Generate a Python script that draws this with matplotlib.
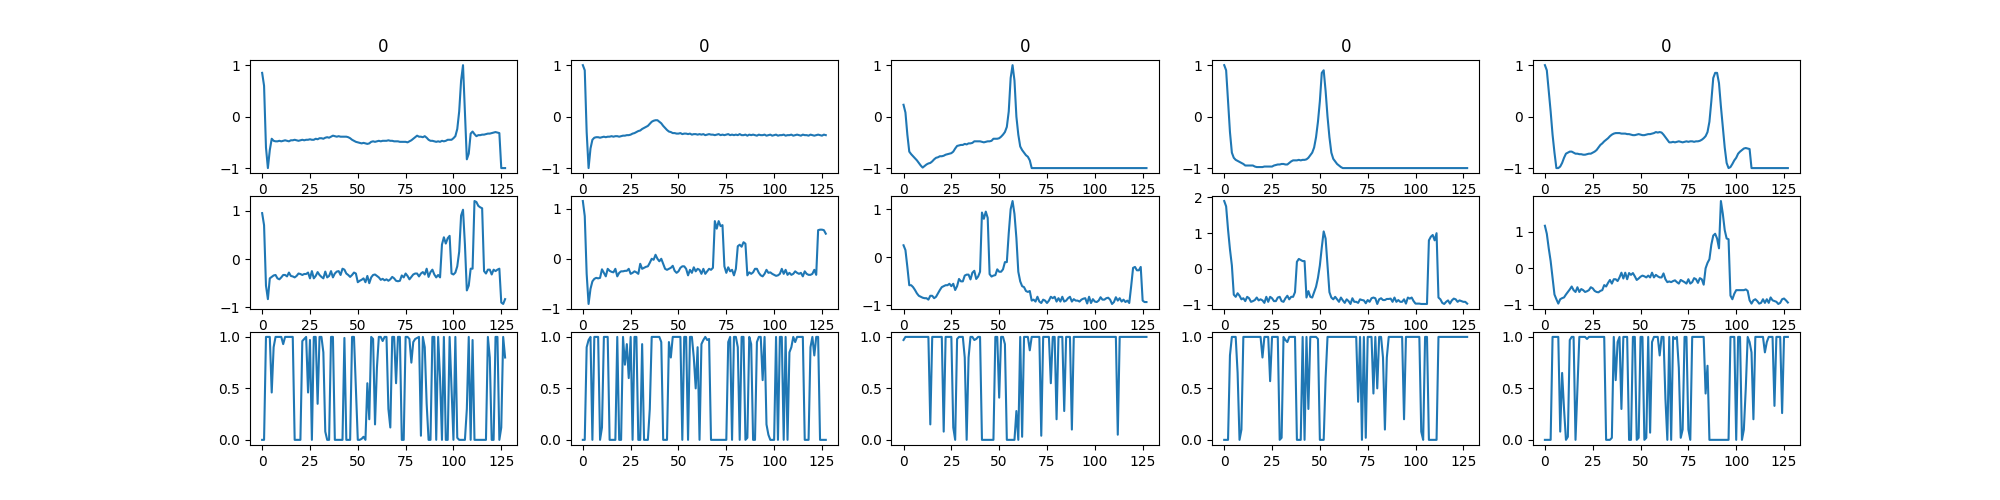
import matplotlib
matplotlib.use("Agg")
import matplotlib.pyplot as plt

# senales leidas a ojo del grafico, 128 puntos cada una
a1 = [.85,.6,-.6,-1,-.65,-.43,-.47,-.48,-.48,-.47,
      -.48,-.47,-.46,-.47,-.48,-.46,-.46,-.45,-.46,-.47,
      -.46,-.45,-.46,-.45,-.45,-.44,-.45,-.45,-.43,-.44,
      -.42,-.42,-.43,-.41,-.4,-.41,-.39,-.37,-.38,-.39,
      -.38,-.39,-.39,-.39,-.39,-.4,-.42,-.45,-.47,-.49,
      -.5,-.51,-.52,-.51,-.52,-.53,-.52,-.49,-.48,-.49,
      -.48,-.47,-.48,-.47,-.47,-.47,-.46,-.47,-.47,-.48,
      -.48,-.48,-.49,-.49,-.49,-.49,-.5,-.48,-.46,-.43,
      -.4,-.37,-.39,-.39,-.4,-.38,-.41,-.45,-.47,-.47,
      -.48,-.49,-.48,-.49,-.47,-.48,-.47,-.45,-.45,-.45,
      -.42,-.38,-.24,.1,.7,1.0,.1,-.83,-.72,-.33,
      -.29,-.34,-.38,-.36,-.36,-.35,-.35,-.34,-.33,-.33,
      -.32,-.31,-.3,-.31,-.32,-1,-1,-1]
a2 = [1.0,.9,-.3,-1,-.62,-.45,-.41,-.4,-.4,-.41,
      -.4,-.39,-.4,-.39,-.39,-.38,-.39,-.38,-.38,-.39,
      -.38,-.37,-.37,-.36,-.36,-.35,-.33,-.32,-.3,-.28,
      -.27,-.24,-.22,-.2,-.18,-.14,-.1,-.08,-.07,-.07,
      -.1,-.13,-.18,-.22,-.26,-.29,-.3,-.32,-.32,-.33,
      -.33,-.32,-.34,-.33,-.33,-.34,-.33,-.35,-.34,-.34,
      -.35,-.34,-.35,-.34,-.36,-.35,-.34,-.35,-.35,-.36,
      -.35,-.34,-.36,-.35,-.36,-.35,-.34,-.36,-.35,-.36,
      -.35,-.36,-.34,-.36,-.36,-.35,-.37,-.35,-.36,-.35,
      -.36,-.37,-.35,-.36,-.36,-.35,-.37,-.36,-.35,-.37,
      -.36,-.35,-.37,-.36,-.36,-.35,-.37,-.36,-.36,-.35,
      -.37,-.36,-.35,-.36,-.37,-.35,-.36,-.36,-.37,-.35,
      -.36,-.37,-.36,-.35,-.36,-.37,-.35,-.36]
a3 = [.23,.08,-.35,-.68,-.73,-.77,-.81,-.85,-.9,-.95,
      -.99,-.96,-.93,-.91,-.9,-.87,-.83,-.8,-.79,-.77,
      -.77,-.76,-.74,-.73,-.72,-.71,-.68,-.62,-.57,-.56,
      -.55,-.55,-.53,-.54,-.52,-.52,-.51,-.48,-.48,-.48,
      -.48,-.49,-.5,-.49,-.48,-.48,-.47,-.43,-.43,-.43,
      -.42,-.39,-.35,-.3,-.2,.1,.75,1.0,.7,.0,
      -.35,-.58,-.65,-.7,-.75,-.78,-.85,-1,-1,-1,
      -1,-1,-1,-1,-1,-1,-1,-1,-1,-1,
      -1,-1,-1,-1,-1,-1,-1,-1,-1,-1,
      -1,-1,-1,-1,-1,-1,-1,-1,-1,-1,
      -1,-1,-1,-1,-1,-1,-1,-1,-1,-1,
      -1,-1,-1,-1,-1,-1,-1,-1,-1,-1,
      -1,-1,-1,-1,-1,-1,-1,-1]
a4 = [1.0,.9,.3,-.3,-.7,-.8,-.84,-.86,-.88,-.9,
      -.92,-.95,-.95,-.95,-.95,-.95,-.97,-.98,-.98,-.98,
      -.98,-.97,-.97,-.97,-.97,-.97,-.95,-.94,-.93,-.93,
      -.92,-.92,-.93,-.93,-.9,-.87,-.85,-.85,-.85,-.84,
      -.85,-.84,-.84,-.83,-.8,-.75,-.7,-.6,-.4,-.1,
      .3,.85,.9,.5,0,-.4,-.7,-.82,-.87,-.92,
      -.95,-.98,-1,-1,-1,-1,-1,-1,-1,-1,
      -1,-1,-1,-1,-1,-1,-1,-1,-1,-1,
      -1,-1,-1,-1,-1,-1,-1,-1,-1,-1,
      -1,-1,-1,-1,-1,-1,-1,-1,-1,-1,
      -1,-1,-1,-1,-1,-1,-1,-1,-1,-1,
      -1,-1,-1,-1,-1,-1,-1,-1,-1,-1,
      -1,-1,-1,-1,-1,-1,-1,-1]
a5 = [1.0,.9,.5,.1,-.35,-.7,-1.0,-1.0,-.97,-.9,
      -.8,-.72,-.7,-.68,-.68,-.7,-.72,-.72,-.73,-.73,
      -.74,-.74,-.73,-.72,-.72,-.7,-.68,-.65,-.6,-.55,
      -.52,-.48,-.45,-.42,-.38,-.35,-.33,-.32,-.32,-.32,
      -.33,-.33,-.33,-.34,-.34,-.35,-.36,-.36,-.35,-.34,
      -.35,-.36,-.36,-.35,-.34,-.34,-.33,-.32,-.3,-.31,
      -.3,-.31,-.35,-.4,-.45,-.5,-.5,-.49,-.5,-.49,
      -.48,-.49,-.5,-.49,-.48,-.49,-.48,-.48,-.49,-.48,
      -.48,-.47,-.45,-.42,-.38,-.3,-.1,.3,.75,.85,
      .85,.65,.2,-.2,-.6,-.9,-1.0,-.98,-.92,-.85,
      -.8,-.72,-.68,-.65,-.62,-.61,-.62,-.63,-1,-1,
      -1,-1,-1,-1,-1,-1,-1,-1,-1,-1,
      -1,-1,-1,-1,-1,-1,-1,-1]

b1 = [.95,.7,-.55,-.83,-.4,-.37,-.34,-.33,-.4,-.42,
      -.38,-.33,-.33,-.36,-.28,-.35,-.36,-.38,-.35,-.3,
      -.31,-.33,-.31,-.31,-.28,-.4,-.25,-.4,-.35,-.27,
      -.33,-.37,-.4,-.26,-.38,-.35,-.25,-.38,-.3,-.26,
      -.25,-.33,-.2,-.22,-.3,-.33,-.37,-.33,-.28,-.3,
      -.48,-.45,-.43,-.4,-.48,-.35,-.5,-.38,-.33,-.32,
      -.35,-.38,-.43,-.41,-.44,-.42,-.45,-.42,-.37,-.4,
      -.45,-.46,-.45,-.34,-.38,-.3,-.35,-.42,-.37,-.32,
      -.3,-.3,-.36,-.3,-.27,-.32,-.2,-.37,-.27,-.22,
      -.32,-.38,-.33,-.38,.3,.45,.32,.43,.48,-.3,
      -.32,-.28,-.15,.15,.9,1.02,.3,-.65,-.55,-.2,
      -.2,1.2,1.18,1.1,1.07,1.05,-.25,-.3,-.22,-.22,
      -.32,-.22,-.25,-.22,-.2,-.9,-.93,-.83]
b2 = [1.15,.85,-.3,-.9,-.6,-.45,-.4,-.38,-.39,-.38,
      -.21,-.28,-.35,-.2,-.24,-.26,-.27,-.2,-.35,-.28,
      -.25,-.25,-.24,-.24,-.2,-.3,-.28,-.25,-.27,-.3,
      -.1,-.2,-.18,-.16,-.15,-.08,0,-.02,.08,0,
      -.05,0,-.1,-.2,-.22,-.2,-.18,-.14,-.24,-.28,
      -.25,-.18,-.15,-.15,-.2,-.33,-.22,-.28,-.17,-.25,
      -.2,-.22,-.3,-.2,-.3,-.25,-.2,-.22,-.18,.75,
      .6,.75,.65,.67,-.15,-.28,-.17,-.25,-.22,-.33,
      -.2,.25,.28,.24,.33,.3,-.33,-.27,-.3,-.27,
      -.2,-.2,-.28,-.33,-.35,-.3,-.22,-.28,-.27,-.3,
      -.32,-.34,-.33,-.3,-.2,-.3,-.22,-.32,-.28,-.32,
      -.3,-.25,-.28,-.3,-.28,-.35,-.25,-.3,-.32,-.32,
      -.3,-.22,-.32,.57,.58,.58,.57,.5]
b3 = [.25,.15,-.2,-.58,-.58,-.62,-.68,-.75,-.8,-.82,
      -.84,-.85,-.85,-.88,-.8,-.8,-.85,-.82,-.75,-.68,
      -.62,-.6,-.58,-.58,-.55,-.6,-.55,-.68,-.6,-.45,
      -.5,-.5,-.38,-.36,-.36,-.46,-.32,-.28,-.45,-.4,
      -.3,.93,.8,.95,.82,-.35,-.4,-.38,-.37,-.25,
      -.3,-.3,-.25,-.1,-.1,.5,1.0,1.17,.9,.4,
      -.3,-.5,-.6,-.62,-.7,-.72,-.7,-.9,-.88,-.92,
      -.82,-.92,-.95,-.88,-.9,-.95,-.9,-.82,-.85,-.82,
      -.92,-.85,-.92,-.82,-.92,-.9,-.85,-.82,-.92,-.87,
      -.9,-.9,-.92,-.88,-.86,-.85,-.96,-.82,-.95,-.87,
      -.92,-.93,-.9,-.83,-.88,-.88,-.85,-.84,-.88,-.97,
      -.93,-.83,-.9,-.85,-.92,-.88,-.93,-.9,-.95,-.6,
      -.22,-.2,-.27,-.27,-.2,-.9,-.93,-.93]
b4 = [1.9,1.75,1.1,.55,.1,-.72,-.78,-.68,-.75,-.85,
      -.82,-.9,-.78,-.82,-.92,-.9,-.87,-.8,-.88,-.85,
      -.88,-.95,-.78,-.92,-.78,-.82,-.9,-.9,-.8,-.78,
      -.9,-.92,-.82,-.75,-.85,-.78,-.78,-.65,.2,.28,
      .25,.22,.22,-.8,-.62,-.78,-.8,-.65,-.5,-.25,
      .1,.6,1.05,.85,.1,-.65,-.8,-.85,-.78,-.85,
      -.92,-.8,-.88,-.95,-.85,-.9,-.98,-.82,-.92,-.92,
      -.95,-.85,-.87,-.88,-.96,-.87,-.92,-.82,-.8,-.82,
      -.98,-.85,-.82,-.87,-.87,-.84,-.84,-.83,-.92,-.8,
      -.92,-.87,-.92,-.92,-.85,-.97,-.8,-.83,-.8,-.9,
      -.97,-.97,-.97,-.98,-.98,-.98,-.98,.8,.9,.95,
      .8,1.0,-.8,-.85,-.95,-.98,-.92,-.88,-.97,-.88,
      -.83,-.85,-.92,-.88,-.9,-.92,-.92,-.97]
b5 = [1.17,.95,.55,.2,-.25,-.72,-.85,-.97,-.85,-.82,
      -.8,-.72,-.65,-.58,-.5,-.6,-.65,-.52,-.65,-.57,
      -.6,-.65,-.63,-.6,-.52,-.55,-.62,-.65,-.66,-.62,
      -.6,-.46,-.5,-.4,-.32,-.42,-.3,-.3,-.35,-.25,
      -.12,-.28,-.12,-.3,-.13,-.18,-.13,-.22,-.32,-.28,
      -.23,-.2,-.22,-.25,-.2,-.25,-.12,-.25,-.18,-.22,
      -.25,-.25,-.14,-.3,-.38,-.36,-.38,-.35,-.33,-.38,
      -.42,-.32,-.35,-.38,-.42,-.3,-.42,-.38,-.27,-.3,
      -.4,-.27,-.3,-.45,0,.15,.25,.65,.9,.95,
      .82,.55,1.85,1.5,1.05,.82,.8,-.75,-.85,-.7,
      -.6,-.6,-.6,-.6,-.6,-.58,-.62,-.88,-.97,-.88,
      -.85,-.9,-.97,-.95,-.85,-.95,-.85,-.95,-.8,-.88,
      -.9,-.92,-.98,-.95,-.85,-.83,-.88,-.94]

c1 = [0,0,1,1,1,.46,.9,1,1,1,
      1,.93,1,1,1,1,1,0,0,0,
      0,.96,.98,1,.46,.97,0,1,1,.35,
      1,1,.85,.08,0,0,1,1,0,0,
      0,0,0,.99,0,0,0,1,1,.5,
      0,0,.01,.03,0,.55,.2,1,.98,.15,
      .7,1,1,.96,1,1,.3,.12,1,1,
      .55,1,1,0,0,1,1,.98,.75,.95,
      .98,.99,1,.04,1,.9,.35,0,0,1,
      1,0,1,.6,0,1,0,0,1,.5,
      0,1,.02,0,0,0,0,.3,1,0,
      .97,0,0,0,0,0,0,0,1,.8,
      0,0,1,1,0,.12,1,.8]
c2 = [0,0,.9,.97,1,0,1,1,1,0,
      .12,1,1,1,0,0,0,0,1,0,
      0,1,.73,.93,.6,1,0,1,1,0,
      0,.93,0,0,0,.3,1,1,1,1,
      1,.95,0,0,0,.95,.8,1,1,1,
      1,1,0,1,1,0,1,1,.8,.5,
      .9,0,.93,.97,1,.97,.98,0,0,0,
      0,0,0,0,0,0,.95,1,0,1,
      1,.9,0,1,1,0,.02,1,.93,0,
      0,.95,1,1,.58,1,.15,.05,0,0,
      0,1,0,1,1,0,1,0,.85,.9,
      1,.95,1,1,1,1,0,0,0,.9,
      1,.82,1,1,0,0,0,0]
c3 = [.97,1,1,1,1,1,1,1,1,1,
      1,1,1,1,.15,1,1,1,1,1,
      1,.08,1,1,1,1,.12,0,.98,1,
      1,1,.8,0,.8,1,1,.97,.98,1,
      1,0,0,0,0,0,0,0,1,1,
      .41,1,1,.93,0,0,0,0,0,.28,
      0,1,.03,1,1,1,.87,1,1,1,
      1,1,.04,1,1,1,1,.55,1,1,
      .2,1,1,1,.28,1,1,1,.1,1,
      1,1,1,1,1,1,1,1,1,1,
      1,1,1,1,1,1,1,1,1,1,
      1,1,.05,1,1,1,1,1,1,1,
      1,1,1,1,1,1,1,1]
c4 = [0,0,0,.82,1,1,1,.65,0,.1,
      1,1,1,1,1,1,1,1,1,1,
      .8,1,1,1,.57,1,1,1,1,0,
      .02,1,.97,.95,1,1,1,1,0,0,
      0,1,0,1,.3,1,1,1,1,.98,
      0,0,0,.6,1,1,1,1,1,1,
      1,1,1,1,1,1,1,1,1,1,
      .37,1,0,1,.02,1,1,1,.45,1,
      .5,1,1,.8,.1,.8,1,1,1,1,
      1,1,1,1,.2,1,1,1,1,1,
      1,1,1,.08,0,1,1,0,0,0,
      0,0,1,1,1,1,1,1,1,1,
      1,1,1,1,1,1,1,1]
c5 = [0,0,0,0,1,1,1,1,.08,.65,
      .3,0,.03,.97,1,1,0,.5,1,1,
      1,1,.98,1,1,1,1,1,1,1,
      1,1,0,0,0,.02,1,.58,.95,1,
      .3,1,1,1,0,0,1,1,0,.02,
      1,1,0,.02,1,.07,.95,1,1,1,
      .82,1,1,.4,0,1,0,1,.98,1,
      .7,.02,.1,1,1,.1,0,1,1,1,
      1,1,1,1,.45,.72,0,0,0,0,
      0,0,0,0,0,0,0,1,1,1,
      0,1,1,0,.1,.5,1,.95,.85,.2,
      1,1,1,1,1,.85,.95,1,1,1,
      .33,1,1,1,.26,1,1,1]

filas = [[a1, a2, a3, a4, a5],
         [b1, b2, b3, b4, b5],
         [c1, c2, c3, c4, c5]]
titulos = ["0", "0", "0", "0", "0"]

fig, axs = plt.subplots(3, 5, figsize=(20, 5))
for i in range(3):
	for j in range(5):
		axs[i][j].plot(filas[i][j])
for j in range(5):
	axs[0][j].set_title(titulos[j])

plt.savefig("out.png", dpi=100)
